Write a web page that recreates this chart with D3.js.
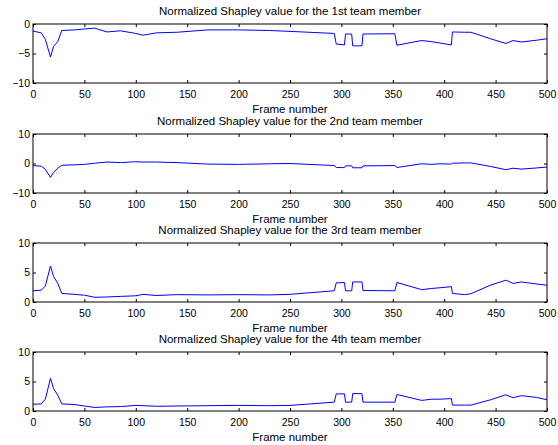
<!DOCTYPE html>
<html>
<head>
<meta charset="utf-8">
<script src="https://cdn.jsdelivr.net/npm/d3@7"></script>
<style>
  body { margin: 0; background: #fff; }
  text { font-family: "Liberation Sans", Arial, Helvetica, sans-serif; fill: #000; }
</style>
</head>
<body>
<div id="chart"></div>
<script>
var frames = [0, 8, 12, 17, 20, 24, 28, 40, 50, 60, 72, 85, 100, 107, 120, 140, 170, 200, 230, 250,
  293, 295, 303, 304, 310, 311, 320, 321, 352, 354, 378, 388, 395, 407, 408, 420, 426, 445, 460, 467, 475, 490, 500]

var member1 = [-1.2, -1.5, -2.6, -5.6, -3.8, -3.0, -1.1, -1.0, -0.85, -0.7, -1.35, -1.15, -1.6, -1.9, -1.5, -1.4, -1.0, -1.0, -1.1, -1.25,
  -1.6, -3.4, -3.55, -1.7, -1.7, -3.7, -3.7, -1.7, -1.65, -3.6, -2.8, -3.0, -3.2, -3.55, -1.35, -1.4, -1.4, -2.5, -3.3, -2.8, -3.05, -2.75, -2.5]
var member2 = [-0.7, -0.9, -2.0, -4.7, -3.0, -1.6, -0.6, -0.45, -0.3, 0.1, 0.5, 0.3, 0.6, 0.5, 0.5, 0.3, -0.2, -0.3, -0.1, 0,
  -0.7, -1.35, -1.4, -0.8, -0.8, -1.45, -1.45, -0.8, -0.7, -1.35, -0.1, -0.3, -0.1, -0.2, 0.1, 0.2, 0.2, -1.0, -2.1, -1.6, -1.9, -1.5, -1.2]
var member3 = [1.9, 2.0, 2.7, 6.1, 4.3, 3.2, 1.45, 1.3, 1.15, 0.8, 0.85, 0.95, 1.05, 1.3, 1.1, 1.25, 1.2, 1.25, 1.2, 1.3,
  1.9, 3.25, 3.3, 1.9, 1.9, 3.4, 3.4, 1.95, 1.9, 3.3, 2.1, 2.3, 2.4, 2.6, 1.45, 1.25, 1.4, 2.85, 3.7, 3.15, 3.4, 3.05, 2.85]
var member4 = [1.15, 1.2, 2.0, 5.55, 3.8, 2.7, 1.2, 1.1, 0.85, 0.6, 0.7, 0.75, 0.95, 0.9, 0.8, 0.85, 0.9, 0.95, 0.9, 0.95,
  1.5, 2.9, 2.9, 1.5, 1.5, 2.95, 2.95, 1.5, 1.5, 2.8, 1.8, 2.0, 2.0, 2.1, 1.0, 1.0, 1.0, 1.9, 2.75, 2.25, 2.6, 2.3, 1.9]

var titles = ['Normalized Shapley value for the 1st team member', 'Normalized Shapley value for the 2nd team member',
  'Normalized Shapley value for the 3rd team member', 'Normalized Shapley value for the 4th team member']
var yDomains = [[-10, 0], [-10, 10], [0, 10], [0, 10]]
var yTicks = [[-10, -5, 0], [-10, 0, 10], [0, 5, 10], [0, 5, 10]]
var xTicks = [0, 50, 100, 150, 200, 250, 300, 350, 400, 450, 500]
var series = [member1, member2, member3, member4]

var width = 558
var height = 445
var left = 33
var right = 547
var panelTops = [24, 134, 243, 352]
var panelH = 59

var svg = d3.select('#chart')
  .append('svg')
  .attr('width', width)
  .attr('height', height)

var x = d3.scaleLinear().domain([0, 500]).range([0, right - left])

series.forEach(function (values, i) {
  var g = svg.append('g')
    .attr('transform', 'translate(' + left + ',' + panelTops[i] + ')')

  var y = d3.scaleLinear().domain(yDomains[i]).range([panelH, 0])

  var line = d3.line()
    .x(function (d, j) { return x(frames[j]) })
    .y(function (d) { return y(d) })

  g.append('path')
    .datum(values)
    .attr('d', line)
    .attr('fill', 'none')
    .attr('stroke', '#0000ff')
    .attr('stroke-width', 1)

  g.append('g')
    .attr('transform', 'translate(0,' + panelH + ')')
    .call(d3.axisBottom(x).tickValues(xTicks).tickSizeInner(-3).tickSizeOuter(0).tickPadding(7.5))
  g.append('g')
    .call(d3.axisTop(x).tickValues(xTicks).tickSizeInner(-3).tickSizeOuter(0).tickFormat(''))
  g.append('g')
    .call(d3.axisLeft(y).tickValues(yTicks[i]).tickSizeInner(-3).tickSizeOuter(0).tickPadding(3))
  g.append('g')
    .attr('transform', 'translate(' + (right - left) + ',0)')
    .call(d3.axisRight(y).tickValues(yTicks[i]).tickSizeInner(-3).tickSizeOuter(0).tickFormat(''))

  g.selectAll('.domain').remove()
  g.selectAll('.tick line').attr('stroke', '#000')
  g.selectAll('.tick text').style('font-size', '10.5px').attr('fill', '#000')

  g.append('rect')
    .attr('width', right - left)
    .attr('height', panelH)
    .attr('fill', 'none')
    .attr('stroke', '#000')
    .attr('stroke-width', 1)

  g.append('text')
    .attr('x', (right - left) / 2)
    .attr('y', -9)
    .attr('text-anchor', 'middle')
    .style('font-size', '11.5px')
    .text(titles[i])

  g.append('text')
    .attr('x', (right - left) / 2)
    .attr('y', panelH + 29.5)
    .attr('text-anchor', 'middle')
    .style('font-size', '11.5px')
    .text('Frame number')
})
</script>
</body>
</html>
